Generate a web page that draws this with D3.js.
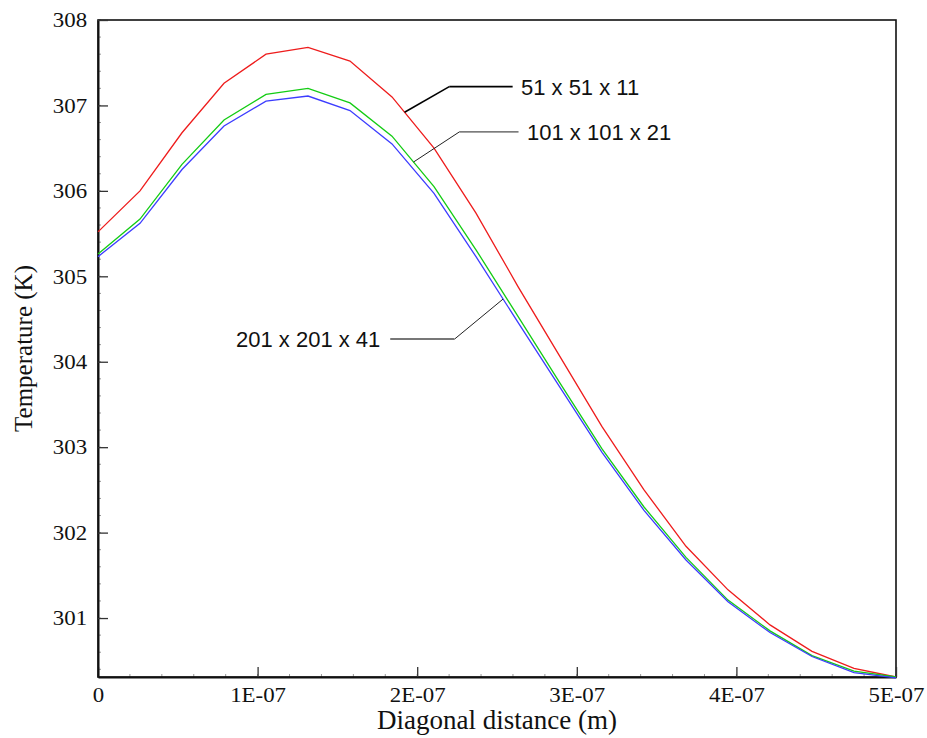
<!DOCTYPE html>
<html>
<head>
<meta charset="utf-8">
<script src="https://cdn.jsdelivr.net/npm/d3@7"></script>
<style>
  html, body { margin: 0; padding: 0; background: #fff; }
  svg { display: block; }
</style>
</head>
<body>
<svg id="chart" width="927" height="738"></svg>
<script>
// diagonal distance (m) of the sampled points
var distance = [0, 2.632e-8, 5.263e-8, 7.895e-8, 1.0526e-7, 1.3158e-7, 1.5789e-7, 1.8421e-7, 2.1053e-7, 2.3684e-7,
    2.6316e-7, 2.8947e-7, 3.1579e-7, 3.4211e-7, 3.6842e-7, 3.9474e-7, 4.2105e-7, 4.4737e-7, 4.7368e-7, 5e-7];

// temperature (K) per grid
var grid51 = [305.52, 306.00, 306.68, 307.26, 307.60, 307.68, 307.52, 307.10, 306.50, 305.74,
    304.88, 304.06, 303.24, 302.50, 301.84, 301.33, 300.92, 300.61, 300.41, 300.31];
var grid101 = [305.26, 305.67, 306.31, 306.83, 307.13, 307.20, 307.03, 306.64, 306.05, 305.31,
    304.53, 303.75, 302.98, 302.30, 301.71, 301.21, 300.85, 300.56, 300.38, 300.31];
var grid201 = [305.23, 305.62, 306.25, 306.76, 307.05, 307.11, 306.94, 306.55, 305.97, 305.23,
    304.46, 303.70, 302.94, 302.26, 301.68, 301.19, 300.83, 300.55, 300.36, 300.30];

var gridNames = ['51 x 51 x 11', '101 x 101 x 21', '201 x 201 x 41'];
var xTicks = [0, 1e-7, 2e-7, 3e-7, 4e-7, 5e-7];
var xTickLabels = ['0', '1E-07', '2E-07', '3E-07', '4E-07', '5E-07'];
var yTicks = [301, 302, 303, 304, 305, 306, 307, 308];

(function () {

    var svg = d3.select('#chart'),
        m = { left: 98, right: 896, top: 20, bottom: 677 };

    var x = d3.scaleLinear().domain([0, 5e-7]).range([m.left, m.right]);
    var y = d3.scaleLinear().domain([300.31, 308]).range([m.bottom, m.top]);

    var series = [
        { name: gridNames[0], values: grid51, color: '#ee1c1c' },
        { name: gridNames[1], values: grid101, color: '#14cc14' },
        { name: gridNames[2], values: grid201, color: '#3c3cff' }
    ];

    // minor ticks
    var xMinor = d3.range(0, 5e-7 + 1e-12, 2e-8);
    svg.append('g').selectAll('line')
        .data(xMinor)
        .enter().append('line')
        .attr('x1', function (d) { return x(d); })
        .attr('x2', function (d) { return x(d); })
        .attr('y1', m.bottom)
        .attr('y2', m.bottom - 3)
        .attr('stroke', '#999')
        .attr('stroke-width', 1);

    var yMinor = d3.range(300.4, 308, 0.2);
    svg.append('g').selectAll('line')
        .data(yMinor)
        .enter().append('line')
        .attr('x1', m.left)
        .attr('x2', m.left + 3)
        .attr('y1', function (d) { return y(d); })
        .attr('y2', function (d) { return y(d); })
        .attr('stroke', '#999')
        .attr('stroke-width', 1);

    // frame
    svg.append('rect')
        .attr('x', m.left)
        .attr('y', m.top)
        .attr('width', m.right - m.left)
        .attr('height', m.bottom - m.top)
        .attr('fill', 'none')
        .attr('stroke', '#111')
        .attr('stroke-width', 1.6);

    // axes
    var xAxis = svg.append('g')
        .attr('transform', 'translate(0,' + m.bottom + ')')
        .call(d3.axisBottom(x)
            .tickValues(xTicks)
            .tickFormat(function (d, i) { return xTickLabels[i]; })
            .tickSizeInner(-10)
            .tickSizeOuter(0)
            .tickPadding(10));

    var yAxis = svg.append('g')
        .attr('transform', 'translate(' + m.left + ',0)')
        .call(d3.axisLeft(y)
            .tickValues(yTicks)
            .tickFormat(d3.format('d'))
            .tickSizeInner(-10)
            .tickSizeOuter(0)
            .tickPadding(10));

    [xAxis, yAxis].forEach(function (a) {
        a.attr('font-family', '"Liberation Serif", "Times New Roman", serif').attr('font-size', 21);
        a.select('.domain').attr('stroke', '#111').attr('stroke-width', 2);
        a.selectAll('.tick line').attr('stroke', '#333').attr('stroke-width', 1.3);
        // the original tick labels are a little wider than plain Times
        a.selectAll('.tick text').attr('fill', '#111').attr('transform', 'scale(1.09,1)');
    });

    // curves
    var line = d3.line()
        .x(function (d, i) { return x(distance[i]); })
        .y(function (d) { return y(d); });

    svg.append('g').selectAll('path')
        .data(series)
        .enter().append('path')
        .attr('d', function (d) { return line(d.values); })
        .attr('fill', 'none')
        .attr('stroke', function (d) { return d.color; })
        .attr('stroke-width', 1.3);

    // labels with leader lines
    var valueAt = function (values, xv) {
        var i = d3.bisectRight(distance, xv) - 1,
            t = (xv - distance[i]) / (distance[i + 1] - distance[i]);
        return values[i] + t * (values[i + 1] - values[i]);
    };

    var labels = [
        { s: 0, at: 1.921e-7, elbow: [2.201e-7, 307.22], end: 2.598e-7, text: 2.65e-7, anchor: 'start', color: '#000', width: 1.6 },
        { s: 1, at: 1.977e-7, elbow: [2.264e-7, 306.69], end: 2.635e-7, text: 2.688e-7, anchor: 'start', color: '#222', width: 1 },
        { s: 2, at: 2.538e-7, elbow: [2.234e-7, 304.265], end: 1.831e-7, text: 1.769e-7, anchor: 'end', color: '#222', width: 1 }
    ];

    labels.forEach(function (l) {
        var px = x(l.at), py = y(valueAt(series[l.s].values, l.at)),
            ex = x(l.elbow[0]), ey = y(l.elbow[1]);

        svg.append('line')
            .attr('x1', px).attr('y1', py)
            .attr('x2', ex).attr('y2', ey)
            .attr('stroke', l.color)
            .attr('stroke-width', l.width);

        svg.append('line')
            .attr('x1', ex).attr('y1', ey)
            .attr('x2', x(l.end)).attr('y2', ey)
            .attr('stroke', l.s === 2 ? '#777' : l.color)
            .attr('stroke-width', l.s === 2 ? 2 : l.width);

        svg.append('text')
            .attr('x', x(l.text))
            .attr('y', ey)
            .attr('dy', '0.36em')
            .attr('text-anchor', l.anchor)
            .attr('font-family', '"Liberation Sans", Arial, sans-serif')
            .attr('font-size', 22)
            .attr('fill', '#111')
            .text(series[l.s].name);
    });

    // axis titles
    svg.append('text')
        .attr('x', (m.left + m.right) / 2)
        .attr('y', 729)
        .attr('text-anchor', 'middle')
        .attr('font-family', '"Liberation Serif", "Times New Roman", serif')
        .attr('font-size', 27)
        .attr('fill', '#111')
        .text('Diagonal distance (m)');

    svg.append('text')
        .attr('transform', 'translate(32,' + (m.top + m.bottom) / 2 + ') rotate(-90)')
        .attr('text-anchor', 'middle')
        .attr('font-family', '"Liberation Serif", "Times New Roman", serif')
        .attr('font-size', 25)
        .attr('fill', '#111')
        .text('Temperature (K)');

})();
</script>
</body>
</html>
